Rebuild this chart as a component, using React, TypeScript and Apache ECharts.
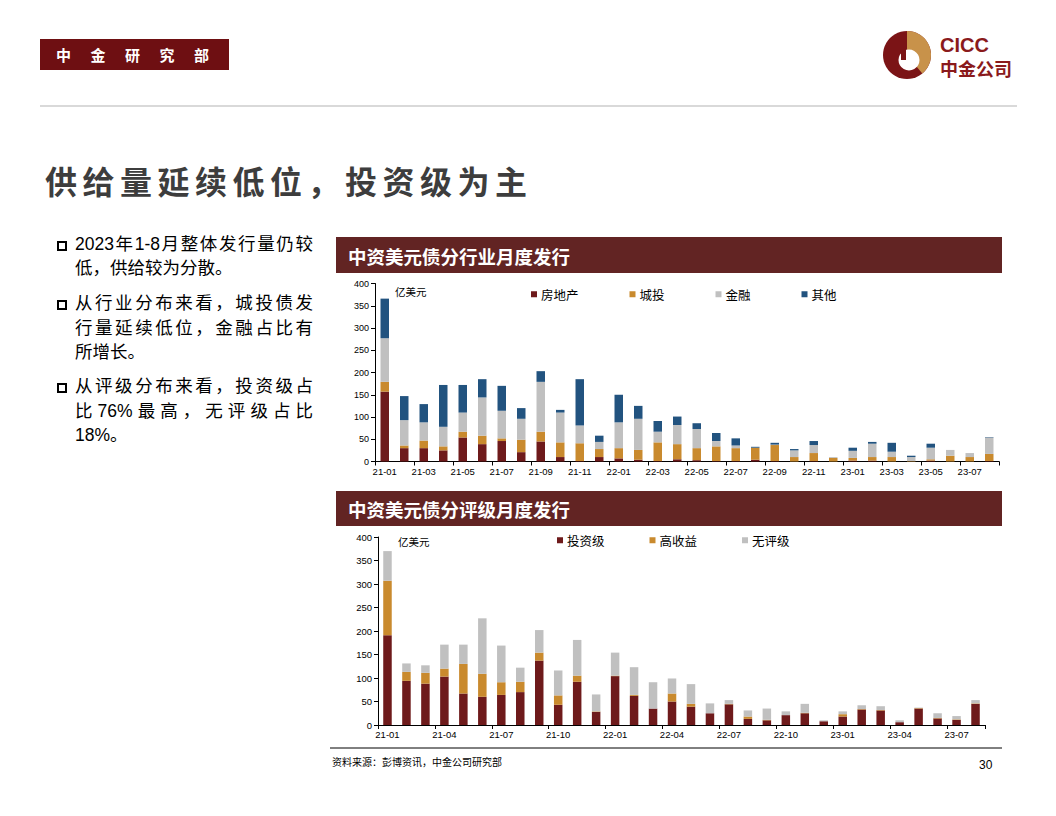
import React, { useEffect, useRef } from "react";
import * as echarts from "echarts";

// ---------- data ----------
const months = [
  "21-01", "21-02", "21-03", "21-04", "21-05", "21-06", "21-07", "21-08", "21-09", "21-10", "21-11", "21-12",
  "22-01", "22-02", "22-03", "22-04", "22-05", "22-06", "22-07", "22-08", "22-09", "22-10", "22-11", "22-12",
  "23-01", "23-02", "23-03", "23-04", "23-05", "23-06", "23-07", "23-08",
];

// 分行业 (亿美元)
const realEstate = [157, 30, 30, 25, 54, 39, 46, 21, 45, 10, 1, 10, 7, 4, 1, 5, 3, 1, 1, 4, 1, 0, 1, 0, 2, 2, 0, 0, 2, 0, 0, 1];
const chengtou = [22, 6, 17, 9, 13, 19, 6, 28, 22, 33, 40, 18, 23, 22, 42, 34, 27, 33, 29, 27, 36, 10, 18, 8, 6, 8, 10, 1, 3, 13, 10, 16];
const finance = [98, 57, 41, 44, 43, 86, 62, 47, 112, 67, 40, 16, 58, 70, 24, 43, 43, 12, 6, 0, 1, 15, 18, 2, 16, 30, 12, 9, 26, 13, 9, 37];
const others = [89, 54, 41, 94, 62, 41, 56, 24, 24, 6, 104, 14, 62, 29, 24, 19, 13, 18, 16, 2, 4, 3, 9, 0, 7, 4, 20, 3, 9, 0, 0, 1];

// 分评级 (亿美元)
const invGrade = [191, 94, 88, 103, 67, 60, 64, 70, 137, 43, 92, 28, 104, 62, 35, 50, 39, 25, 44, 13, 10, 21, 25, 8, 18, 33, 31, 6, 35, 14, 11, 45];
const highYield = [116, 19, 23, 17, 63, 49, 27, 22, 17, 20, 13, 1, 1, 2, 0, 17, 6, 0, 1, 5, 1, 0, 1, 0, 5, 1, 1, 0, 1, 1, 1, 1];
const unrated = [63, 18, 16, 51, 41, 118, 78, 30, 48, 53, 76, 36, 49, 59, 56, 32, 42, 21, 8, 13, 24, 8, 19, 2, 6, 8, 8, 4, 1, 10, 7, 7];

const industryNames = ["房地产", "城投", "金融", "其他"];
const ratingNames = ["投资级", "高收益", "无评级"];

const yMin = 0;
const yMax = 400;
const yStep = 50;

// ---------- styles ----------
const C_MAROON = "#6e1a1b";
const C_GOLD = "#c98a2e";
const C_GRAY = "#c0c0c0";
const C_BLUE = "#22537f";
const C_BAR = "#622423";
const NUM_FONT = '"Liberation Sans", Arial, "Noto Sans CJK SC", sans-serif';
const CJK_FONT = '"Noto Sans CJK SC", "Liberation Sans", sans-serif';
const MIX_FONT = '"Liberation Sans", "Noto Sans CJK SC", sans-serif';

function App() {
  const ref = useRef<HTMLDivElement>(null);

  useEffect(() => {
    if (!ref.current) return;
    const chart = echarts.init(ref.current, undefined, { renderer: "svg" });

    const xAxisBase = (gridIndex: number, every: number) => ({
      type: "category",
      gridIndex,
      data: months,
      boundaryGap: true,
      axisLine: { show: true, lineStyle: { color: "#000", width: 1 } },
      axisTick: { show: true, interval: every - 1, alignWithLabel: false, length: 4, lineStyle: { color: "#000" } },
      axisLabel: { interval: every - 1, color: "#000", fontSize: 9.5, fontFamily: NUM_FONT, margin: 5 },
      splitLine: { show: false },
    });
    const yAxisBase = (gridIndex: number, fs: number) => ({
      type: "value",
      gridIndex,
      min: yMin,
      max: yMax,
      interval: yStep,
      axisLine: { show: true, lineStyle: { color: "#000", width: 1 } },
      axisTick: { show: true, length: 4, lineStyle: { color: "#000" } },
      axisLabel: { color: "#000", fontSize: fs, fontFamily: NUM_FONT, margin: 6 },
      splitLine: { show: false },
    });

    const bar = (name: string, data: number[], color: string, idx: number, stack: string) => ({
      name,
      type: "bar",
      stack,
      xAxisIndex: idx,
      yAxisIndex: idx,
      data,
      barWidth: 8.5,
      itemStyle: { color },
      emphasis: { disabled: true },
    });

    const legendBase = {
      itemWidth: 6,
      itemHeight: 6,
      icon: "rect",
      padding: 0,
      textStyle: { fontSize: 12.5, color: "#000", fontFamily: CJK_FONT, padding: [0, 0, 0, -1] },
      selectedMode: false,
    };

    const option: any = {
      animation: false,
      grid: [
        { left: 375, top: 283.5, width: 624, height: 178 },
        { left: 378, top: 537, width: 607, height: 188 },
      ],
      xAxis: [xAxisBase(0, 2), xAxisBase(1, 3)],
      yAxis: [yAxisBase(0, 9), yAxisBase(1, 9.5)],
      legend: [
        { ...legendBase, data: industryNames, left: 531, top: 288, itemGap: 51 },
        { ...legendBase, data: ratingNames, left: 557, top: 534, itemGap: 45 },
      ],
      series: [
        bar(industryNames[0], realEstate, C_MAROON, 0, "ind"),
        bar(industryNames[1], chengtou, C_GOLD, 0, "ind"),
        bar(industryNames[2], finance, C_GRAY, 0, "ind"),
        bar(industryNames[3], others, C_BLUE, 0, "ind"),
        bar(ratingNames[0], invGrade, C_MAROON, 1, "rat"),
        bar(ratingNames[1], highYield, C_GOLD, 1, "rat"),
        bar(ratingNames[2], unrated, C_GRAY, 1, "rat"),
      ],
      graphic: [
        // header gray rule
        { type: "rect", shape: { x: 40, y: 105, width: 977, height: 2 }, style: { fill: "#d9d9d9" } },
        // chart title bars
        { type: "rect", shape: { x: 336, y: 237, width: 666, height: 36 }, style: { fill: C_BAR } },
        {
          type: "text", x: 348, y: 256,
          style: { text: "中资美元债分行业月度发行", fill: "#fff", fontSize: 18.5, fontWeight: "bold", fontFamily: CJK_FONT, verticalAlign: "middle" },
        },
        { type: "rect", shape: { x: 336, y: 491, width: 666, height: 35 }, style: { fill: C_BAR } },
        {
          type: "text", x: 348, y: 509,
          style: { text: "中资美元债分评级月度发行", fill: "#fff", fontSize: 18.5, fontWeight: "bold", fontFamily: CJK_FONT, verticalAlign: "middle" },
        },
        // unit labels
        { type: "text", x: 395, y: 291, style: { text: "亿美元", fill: "#000", fontSize: 10.5, fontFamily: CJK_FONT, verticalAlign: "middle" } },
        { type: "text", x: 398, y: 541, style: { text: "亿美元", fill: "#000", fontSize: 10.5, fontFamily: CJK_FONT, verticalAlign: "middle" } },
        // footer
        { type: "line", shape: { x1: 330, y1: 748, x2: 1002, y2: 748 }, style: { stroke: "#000", lineWidth: 1 } },
        { type: "text", x: 332, y: 761, style: { text: "资料来源：彭博资讯，中金公司研究部", fill: "#000", fontSize: 10, fontFamily: CJK_FONT, verticalAlign: "middle" } },
        { type: "text", x: 979, y: 765, style: { text: "30", fill: "#000", fontSize: 12, fontFamily: NUM_FONT, verticalAlign: "middle" } },
        // logo
        { type: "circle", shape: { cx: 907, cy: 55, r: 24 }, style: { fill: "#7b1416" } },
        { type: "sector", shape: { cx: 907, cy: 55, r: 24, r0: 0, startAngle: -Math.PI / 2, endAngle: Math.PI * 0.28, clockwise: true }, style: { fill: "#c8924a" } },
        { type: "circle", shape: { cx: 909, cy: 60, r: 10.5 }, style: { fill: "#fff" } },
        { type: "rect", shape: { x: 901, y: 32, width: 5, height: 28 }, style: { fill: "#7b1416" } },
        { type: "text", x: 940, y: 45, style: { text: "CICC", fill: "#8a1a1c", fontSize: 20, fontWeight: "bold", fontFamily: NUM_FONT, verticalAlign: "middle" } },
        { type: "text", x: 940, y: 67.5, style: { text: "中金公司", fill: "#8a1a1c", fontSize: 18, fontWeight: "bold", fontFamily: CJK_FONT, verticalAlign: "middle" } },
      ],
    };

    chart.setOption(option);
    return () => chart.dispose();
  }, []);

  const lineStyle = (top: number, justify: boolean): React.CSSProperties => ({
    position: "absolute",
    left: 75,
    top,
    width: 238,
    height: 24,
    lineHeight: "24px",
    fontSize: 17.5,
    color: "#000",
    fontFamily: MIX_FONT,
    textAlign: justify ? "justify" : "left",
    textAlignLast: justify ? "justify" : "left",
    whiteSpace: "nowrap",
  } as React.CSSProperties);

  const box = (top: number): React.CSSProperties => ({
    position: "absolute",
    left: 57,
    top,
    width: 10,
    height: 10,
    border: "2px solid #000",
    boxSizing: "border-box",
  });

  const lines: [string, number, boolean][] = [
    ["2023年1-8月整体发行量仍较", 244, true],
    ["低，供给较为分散。", 268, false],
    ["从行业分布来看，城投债发", 303, true],
    ["行量延续低位，金融占比有", 328, true],
    ["所增长。", 352, false],
    ["从评级分布来看，投资级占", 386, true],
    ["比76%最高，无评级占比", 411, true],
    ["18%。", 435, false],
  ];

  return (
    <div style={{ position: "absolute", left: 0, top: 0, width: 1056, height: 816, background: "#fff", overflow: "hidden" }}>
      <div ref={ref} style={{ position: "absolute", left: 0, top: 0, width: 1056, height: 816 }} />
      {/* header box */}
      <div style={{ position: "absolute", left: 40, top: 39, width: 189, height: 31, background: "#6e0f12" }} />
      <div
        style={{
          position: "absolute", left: 56, top: 39, height: 31, lineHeight: "31px",
          color: "#fff", fontSize: 15, fontWeight: "bold", letterSpacing: 19.5, fontFamily: CJK_FONT, whiteSpace: "nowrap",
        }}
      >
        中金研究部
      </div>
      {/* title */}
      <div
        style={{
          position: "absolute", left: 45, top: 160, height: 40, lineHeight: "40px",
          color: "#3d3d3d", fontSize: 32, fontWeight: "bold", letterSpacing: 5.5, fontFamily: CJK_FONT, whiteSpace: "nowrap",
        }}
      >
        供给量延续低位，投资级为主
      </div>
      {/* bullets */}
      <div style={box(241)} />
      <div style={box(300)} />
      <div style={box(383)} />
      {lines.map(([t, c, j], i) => (
        <div key={i} style={lineStyle(c - 12, j)}>{t}</div>
      ))}
    </div>
  );
}

export default App;
